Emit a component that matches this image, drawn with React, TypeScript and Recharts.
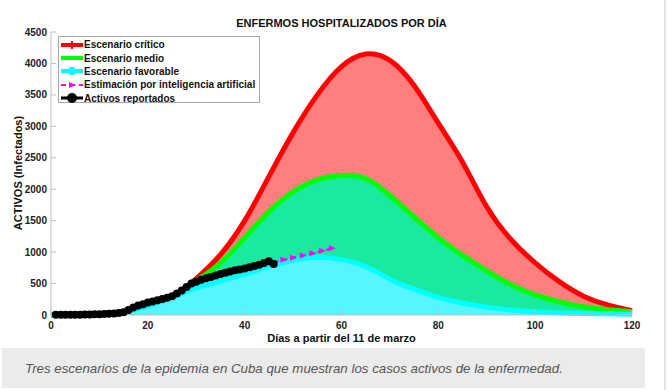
import React from 'react';
import {
  ComposedChart,
  Area,
  Line,
  XAxis,
  YAxis,
} from 'recharts';

/* =======================
   Data
======================= */

const scenarioDays = [
  0, 5, 10, 15, 20, 25, 30, 35, 40, 45, 50, 55, 60, 65, 70, 75, 80, 85, 90, 95,
  100, 105, 110, 115, 120,
];

const criticalValues = [
  0, 5, 20, 55, 140, 290, 580, 960, 1500, 2200, 2900, 3500, 3950, 4150, 4050,
  3650, 3050, 2430, 1720, 1200, 830, 530, 300, 160, 70,
];

const mediumValues = [
  0, 5, 20, 55, 140, 290, 540, 830, 1230, 1640, 1960, 2150, 2220, 2170, 1900,
  1560, 1230, 950, 700, 480, 320, 210, 130, 85, 50,
];

const favorableValues = [
  0, 5, 20, 55, 140, 280, 430, 540, 650, 770, 870, 920, 880, 770, 570, 410,
  280, 190, 125, 80, 50, 35, 25, 18, 12,
];

const reportedDays = [
  1, 2, 3, 4, 5, 6, 7, 8, 9, 10, 11, 12, 13, 14, 15, 16, 17, 18, 19, 20, 21, 22,
  23, 24, 25, 26, 27, 28, 29, 30, 31, 32, 33, 34, 35, 36, 37, 38, 39, 40, 41,
  42, 43, 44, 45, 46,
];

const reportedValues = [
  2, 2, 3, 3, 4, 5, 6, 8, 10, 12, 15, 20, 25, 32, 45, 80, 120, 150, 170, 200,
  215, 235, 255, 275, 300, 340, 390, 445, 500, 530, 560, 585, 605, 630, 650,
  670, 690, 710, 725, 740, 760, 780, 800, 825, 855, 810,
];

const aiDays = [46, 48, 50, 52, 54, 56, 58];
const aiValues = [840, 880, 910, 945, 980, 1020, 1060];

const xTicks = [0, 20, 40, 60, 80, 100, 120];
const yTicks = [0, 500, 1000, 1500, 2000, 2500, 3000, 3500, 4000, 4500];

const scenarioData = scenarioDays.map((day, i) => ({
  day,
  critico: criticalValues[i],
  medio: mediumValues[i],
  favorable: favorableValues[i],
}));

const reportedData = reportedDays.map((day, i) => ({
  day,
  activos: reportedValues[i],
}));

const aiData = aiDays.map((day, i) => ({ day, estimacion: aiValues[i] }));

/* =======================
   Styles
======================= */
const FONT = 'Arial, "Liberation Sans", sans-serif';
const AXIS = '#bdbdbd';
const tickStyle = { fill: '#222', fontSize: 10, fontWeight: 700, fontFamily: FONT };

/* ---------- markers ---------- */
const Triangle = (props: any) => {
  const { cx, cy } = props;
  if (cx == null || cy == null) return null;
  return (
    <polygon
      points={`${cx - 3},${cy - 3} ${cx + 4},${cy} ${cx - 3},${cy + 3}`}
      fill="#ff00ff"
    />
  );
};

const legendItems = [
  { label: 'Escenario crítico', color: '#ff0000', marker: 'plus' },
  { label: 'Escenario medio', color: '#00ff00', marker: 'square' },
  { label: 'Escenario favorable', color: '#00ffff', marker: 'circle' },
  { label: 'Estimación por inteligencia artificial', color: '#ff00ff', marker: 'tri' },
  { label: 'Activos reportados', color: '#000000', marker: 'big' },
];

const LegendSample = ({ color, marker }: { color: string; marker: string }) => (
  <svg width={24} height={12} style={{ display: 'block' }}>
    {marker === 'tri' ? (
      <>
        <line x1={1} y1={6} x2={23} y2={6} stroke={color} strokeWidth={2} strokeDasharray="5 4" />
        <polygon points="9,3 16,6 9,9" fill={color} />
      </>
    ) : (
      <line x1={1} y1={6} x2={23} y2={6} stroke={color} strokeWidth={marker === 'big' ? 3 : 4} />
    )}
    {marker === 'plus' && (
      <line x1={12} y1={2} x2={12} y2={10} stroke={color} strokeWidth={2} />
    )}
    {marker === 'square' && <rect x={10} y={4} width={4} height={4} fill={color} />}
    {marker === 'circle' && <circle cx={12} cy={6} r={4} fill={color} />}
    {marker === 'big' && <circle cx={12} cy={6} r={5} fill={color} />}
  </svg>
);

/* =======================
   Component
======================= */
const App: React.FC = () => {
  return (
    <div
      style={{
        position: 'absolute',
        left: 0,
        top: 0,
        width: 668,
        height: 390,
        background: '#fff',
        fontFamily: FONT,
        overflow: 'hidden',
      }}
    >
      {/* ================= TITLE ================= */}
      <div
        style={{
          position: 'absolute',
          left: 51,
          width: 581,
          top: 17,
          textAlign: 'center',
          fontSize: 11,
          fontWeight: 700,
          color: '#111',
        }}
      >
        ENFERMOS HOSPITALIZADOS POR DÍA
      </div>

      {/* ================= CHART ================= */}
      <div style={{ position: 'absolute', left: 0, top: 0 }}>
        <ComposedChart
          width={668}
          height={345}
          margin={{ top: 32, right: 36, bottom: 5, left: 11 }}
        >
          <XAxis
            xAxisId="b"
            type="number"
            dataKey="day"
            domain={[0, 120]}
            ticks={xTicks}
            tickSize={-5}
            tickMargin={12}
            height={25}
            axisLine={{ stroke: AXIS }}
            tickLine={{ stroke: AXIS }}
            tick={tickStyle}
          />
          <XAxis
            xAxisId="t"
            orientation="top"
            type="number"
            domain={[0, 120]}
            ticks={xTicks}
            tickSize={-5}
            height={0}
            axisLine={{ stroke: AXIS }}
            tickLine={{ stroke: AXIS }}
            tickFormatter={() => ''}
          />
          <YAxis
            yAxisId="l"
            type="number"
            domain={[0, 4500]}
            ticks={yTicks}
            tickSize={-5}
            tickMargin={9}
            width={40}
            axisLine={{ stroke: AXIS }}
            tickLine={{ stroke: AXIS }}
            tick={tickStyle}
          />
          <YAxis
            yAxisId="r"
            orientation="right"
            type="number"
            domain={[0, 4500]}
            ticks={yTicks}
            tickSize={-5}
            width={0}
            axisLine={{ stroke: AXIS }}
            tickLine={{ stroke: AXIS }}
            tickFormatter={() => ''}
          />

          <Area
            xAxisId="b"
            yAxisId="l"
            data={scenarioData}
            dataKey="critico"
            type="natural"
            stroke="#ff0000"
            strokeWidth={5}
            fill="#ff7f7f"
            fillOpacity={1}
            dot={false}
            activeDot={false}
            isAnimationActive={false}
          />
          <Area
            xAxisId="b"
            yAxisId="l"
            data={scenarioData}
            dataKey="medio"
            type="natural"
            stroke="#00ff00"
            strokeWidth={5}
            fill="#1aeaa0"
            fillOpacity={1}
            dot={false}
            activeDot={false}
            isAnimationActive={false}
          />
          <Area
            xAxisId="b"
            yAxisId="l"
            data={scenarioData}
            dataKey="favorable"
            type="natural"
            stroke="#00ffff"
            strokeWidth={5}
            fill="#55f6ff"
            fillOpacity={1}
            dot={false}
            activeDot={false}
            isAnimationActive={false}
          />
          <Line
            xAxisId="b"
            yAxisId="l"
            data={aiData}
            dataKey="estimacion"
            type="linear"
            stroke="#ff00ff"
            strokeWidth={2}
            strokeDasharray="5 4"
            dot={<Triangle />}
            activeDot={false}
            isAnimationActive={false}
          />
          <Line
            xAxisId="b"
            yAxisId="l"
            data={reportedData}
            dataKey="activos"
            type="linear"
            stroke="#000"
            strokeWidth={3}
            dot={{ r: 4, fill: '#000', stroke: '#000', strokeWidth: 0 }}
            activeDot={false}
            isAnimationActive={false}
          />
        </ComposedChart>
      </div>

      {/* ================= AXIS LABELS ================= */}
      <div
        style={{
          position: 'absolute',
          left: 18 - 100,
          top: 167,
          width: 200,
          textAlign: 'center',
          fontSize: 11,
          fontWeight: 700,
          color: '#111',
          transform: 'rotate(-90deg)',
        }}
      >
        ACTIVOS (Infectados)
      </div>
      <div
        style={{
          position: 'absolute',
          left: 51,
          width: 581,
          top: 332,
          textAlign: 'center',
          fontSize: 11,
          fontWeight: 700,
          color: '#111',
        }}
      >
        Días a partir del 11 de marzo
      </div>

      {/* ================= LEGEND ================= */}
      <div
        style={{
          position: 'absolute',
          left: 58,
          top: 36,
          width: 202,
          height: 67,
          border: '1px solid #a8a8a8',
          background: '#fff',
          padding: '1px 0 0 1px',
          boxSizing: 'border-box',
        }}
      >
        {legendItems.map((item, index) => (
          <div
            key={index}
            style={{ display: 'flex', alignItems: 'center', height: 13.4 }}
          >
            <LegendSample color={item.color} marker={item.marker} />
            <span
              style={{
                fontSize: 10,
                fontWeight: 700,
                color: '#111',
                whiteSpace: 'nowrap',
              }}
            >
              {item.label}
            </span>
          </div>
        ))}
      </div>

      {/* ================= CAPTION ================= */}
      <div
        style={{
          position: 'absolute',
          left: 2,
          top: 348,
          width: 643,
          height: 40,
          background: '#ebebeb',
          display: 'flex',
          alignItems: 'center',
          boxSizing: 'border-box',
          paddingLeft: 23,
          fontSize: 13.3,
          fontStyle: 'italic',
          color: '#555',
        }}
      >
        Tres escenarios de la epidemia en Cuba que muestran los casos activos de
        la enfermedad.
      </div>
      <div
        style={{
          position: 'absolute',
          left: 664,
          top: 0,
          width: 2,
          height: 390,
          background: '#e4e4e4',
        }}
      />
    </div>
  );
};

export default App;
